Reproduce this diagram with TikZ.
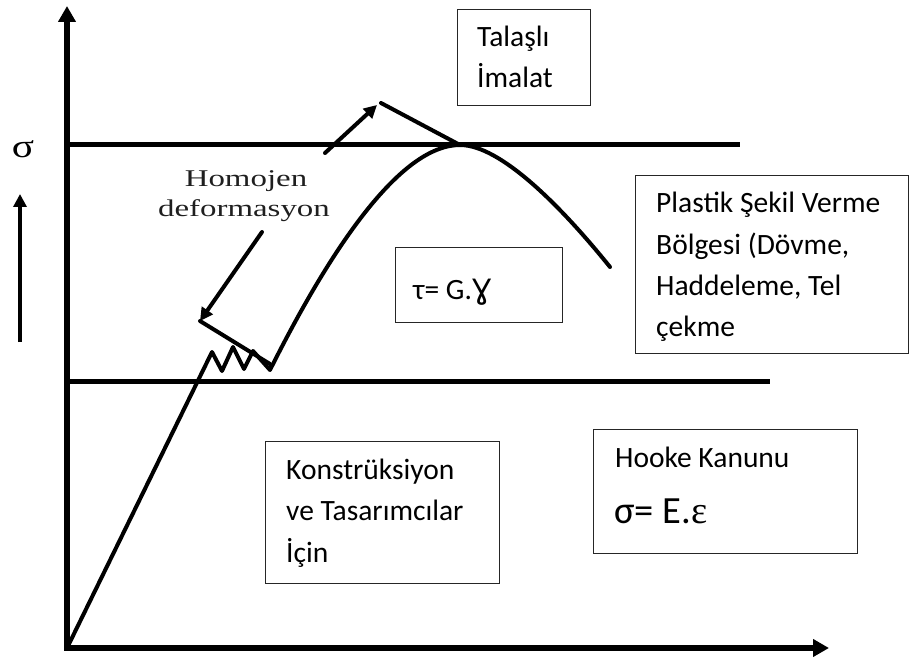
\documentclass[tikz,border=0pt]{standalone}
\usepackage{fontspec}
\setmainfont{Carlito}
\newfontfamily\serifface{Liberation Serif}
\newfontfamily\symface{DejaVu Sans}
\usetikzlibrary{arrows.meta}

\begin{document}
\begin{tikzpicture}[x=1pt,y=-1pt,
  frame/.style={draw=black!85, line width=1.3pt, inner sep=0pt, anchor=north west},
  lbl/.style={anchor=base west, inner sep=0pt, font=\fontsize{29.5}{34}\selectfont},
  biglbl/.style={anchor=base west, inner sep=0pt, font=\fontsize{38.5}{42}\selectfont},
  serifnote/.style={anchor=base, inner sep=0pt, text=black!88, font=\serifface\fontsize{24}{28}\selectfont},
  axis/.style={line width=5.5pt, line join=miter},
  level/.style={line width=5pt},
  curve/.style={line width=4pt, line join=round, line cap=round},
  bigtip/.tip={Triangle[length=16pt,width=17pt]},
  smalltip/.tip={Triangle[length=13pt,width=13pt]}]
\useasboundingbox (0,0) rectangle (910,660);

% axes
\coordinate (ytop) at (67,6);
\coordinate (orig) at (67,648);
\coordinate (xend) at (829,648);
\draw[axis, {bigtip}-{bigtip}] (ytop) -- (orig) -- (xend);

% stress levels
\coordinate (u0) at (67,145);  \coordinate (u1) at (740,145);
\coordinate (l0) at (67,381);  \coordinate (l1) at (770,381);
\draw[level] (u0) -- (u1);
\draw[level] (l0) -- (l1);

% sigma label with rising arrow
\node[anchor=base, inner sep=0pt, font=\serifface\fontsize{33}{36}\selectfont] (sig) at (23,158) {\scalebox{1.25}[1]{σ}};
\coordinate (sa0) at (20,342);
\coordinate (sa1) at (20,194);
\draw[line width=4pt, -{smalltip}] (sa0) -- (sa1);

% stress-strain curve
\coordinate (c0) at (68,646);
\coordinate (z0) at (212,352);
\coordinate (z1) at (222,371);
\coordinate (z2) at (233,347);
\coordinate (z3) at (244,369);
\coordinate (z4) at (253,351);
\coordinate (z5) at (270,370);
\coordinate (peak) at (460,145);
\coordinate (cend) at (610,267);
\draw[curve] (c0) -- (z0) -- (z1) -- (z2) -- (z3) -- (z4) -- (z5)
  .. controls (330,250) and (400,145) .. (peak)
  .. controls (500,145) and (560,205) .. (cend);

% homogeneous deformation arrows
\coordinate (da0) at (262,232);
\coordinate (da1) at (200,321);
\coordinate (db) at (270,364);
\draw[curve, -{smalltip}] (da0) -- (da1);
\draw[curve] (da1) -- (db);
\coordinate (ua0) at (325,153);
\coordinate (ua1) at (377,105);
\coordinate (ub0) at (381,103);
\draw[curve, -{smalltip}] (ua0) -- (ua1);
\draw[curve] (ub0) -- (peak);

\node[serifnote] (hom1) at (246,187) {\scalebox{1.37}[1]{Homojen}};
\node[serifnote] (hom2) at (244,217) {\scalebox{1.37}[1]{deformasyon}};

% boxes
\node[frame, minimum width=133pt, minimum height=96pt] (talasli) at (457,9) {};
\node[lbl] (t1) at (477,47) {Talaşlı};
\node[lbl] (t2) at (477,88) {İmalat};

\node[frame, minimum width=273pt, minimum height=178pt] (plastik) at (635,175) {};
\node[lbl] (p1) at (656,213) {Plastik Şekil Verme};
\node[lbl] (p2) at (656,255) {Bölgesi (Dövme,};
\node[lbl] (p3) at (656,295) {Haddeleme, Tel};
\node[lbl] (p4) at (656,336) {çekme};

\node[frame, minimum width=167pt, minimum height=75pt] (shear) at (395,247) {};
\node[lbl] (s1) at (413,300) {τ= G.{\symface\fontsize{28}{34}\selectfont Ɣ}};

\node[frame, minimum width=234pt, minimum height=142pt] (konst) at (265,441) {};
\node[lbl] (k1) at (286,479) {Konstrüksiyon};
\node[lbl] (k2) at (286,520) {ve Tasarımcılar};
\node[lbl] (k3) at (286,562) {İçin};

\node[frame, minimum width=264pt, minimum height=124pt] (hooke) at (593,429) {};
\node[lbl] (h1) at (615,467) {Hooke Kanunu};
\node[biglbl] (h2) at (614,523) {σ= E.{\serifface ε}};
\end{tikzpicture}
\end{document}
